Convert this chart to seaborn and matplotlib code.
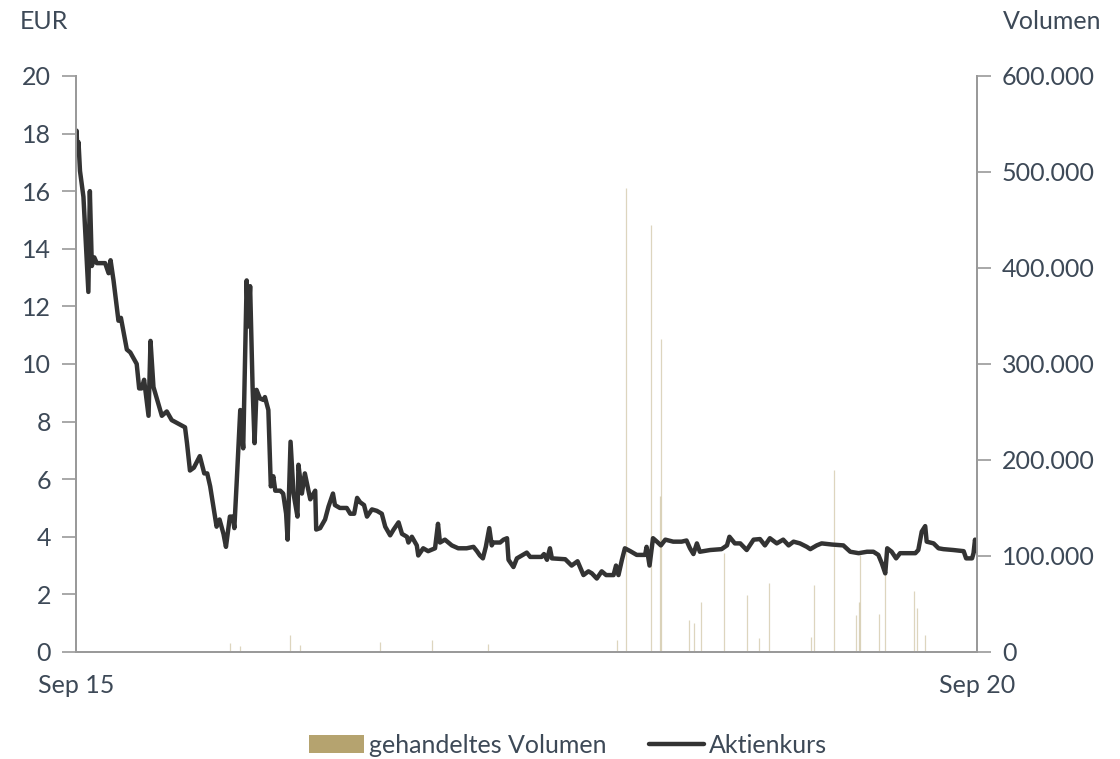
import numpy as np
import pandas as pd
import matplotlib
matplotlib.use("Agg")
import matplotlib.pyplot as plt
import matplotlib.dates as mdates
from matplotlib.patches import Patch
from matplotlib.lines import Line2D
from matplotlib.ticker import FuncFormatter, MultipleLocator
import seaborn as sns

start = pd.Timestamp("2015-09-15")
end = pd.Timestamp("2020-09-15")

# Aktienkurs: Tage seit Start, Kurs in EUR
kurs_tage = [0, 1, 3, 5, 8, 15, 25, 28, 32, 37, 42, 59, 66, 70, 76, 86, 91, 103, 110, 123,
             128, 133, 138, 147, 151, 157, 174, 184, 194, 221, 225, 231, 239, 251, 260, 266,
             272, 285, 291, 299, 304, 312, 318, 321, 326, 333, 339, 346, 349, 353, 358, 362,
             366, 373, 380, 383, 390, 395, 400, 404, 414, 420, 426, 429, 435, 441, 449, 451,
             458, 464, 475, 485, 487, 495, 505, 512, 521, 525, 535, 549, 556, 564, 570, 576,
             584, 590, 600, 610, 620, 627, 637, 644, 654, 661, 671, 674, 681, 691, 694, 704,
             714, 728, 734, 738, 748, 762, 775, 792, 806, 813, 819, 825, 831, 838, 843, 846,
             860, 867, 874, 877, 887, 894, 914, 921, 944, 949, 955, 961, 965, 992, 1005, 1017,
             1029, 1039, 1046, 1056, 1066, 1075, 1090, 1095, 1100, 1107, 1113, 1124, 1137,
             1154, 1157, 1163, 1170, 1178, 1186, 1195, 1211, 1228, 1238, 1245, 1252, 1259,
             1265, 1286, 1309, 1320, 1325, 1336, 1347, 1360, 1374, 1387, 1397, 1407, 1421,
             1434, 1445, 1455, 1468, 1482, 1489, 1502, 1512, 1533, 1556, 1570, 1587, 1604,
             1617, 1627, 1634, 1641, 1645, 1654, 1663, 1671, 1702, 1708, 1715, 1722, 1725,
             1739, 1749, 1759, 1779, 1800, 1805, 1817, 1820, 1823, 1827]
kurs = [17.9, 18.1, 17.3, 17.7, 16.7, 15.8, 12.5, 16.0, 13.4, 13.7, 13.5, 13.5, 13.15, 13.6,
        12.9, 11.5, 11.6, 10.5, 10.4, 10.0, 9.15, 9.15, 9.45, 8.2, 10.8, 9.2, 8.2, 8.35, 8.05,
        7.8, 7.25, 6.3, 6.4, 6.8, 6.2, 6.2, 5.75, 4.35, 4.6, 4.1, 3.65, 4.7, 4.7, 4.3, 5.97,
        8.4, 7.07, 12.9, 11.3, 12.7, 9.2, 7.25, 9.1, 8.8, 8.75, 8.85, 8.4, 5.75, 6.1, 5.6, 5.6,
        5.5, 4.8, 3.9, 7.3, 5.5, 4.7, 6.5, 5.5, 6.2, 5.3, 5.6, 4.25, 4.3, 4.6, 5.05, 5.5, 5.1,
        5.0, 5.0, 4.8, 4.8, 5.35, 5.2, 5.1, 4.7, 4.95, 4.9, 4.8, 4.35, 4.05, 4.25, 4.5, 4.1,
        4.0, 3.8, 4.0, 3.7, 3.35, 3.6, 3.5, 3.6, 4.45, 3.8, 3.9, 3.7, 3.6, 3.6, 3.65, 3.5, 3.35,
        3.25, 3.65, 4.3, 3.7, 3.8, 3.8, 3.9, 3.95, 3.2, 2.95, 3.25, 3.45, 3.3, 3.3, 3.4, 3.2,
        3.6, 3.25, 3.22, 3.0, 3.15, 2.67, 2.8, 2.73, 2.55, 2.8, 2.67, 2.67, 3.0, 2.67, 3.2, 3.6,
        3.5, 3.37, 3.37, 3.65, 3.0, 3.95, 3.83, 3.7, 3.9, 3.83, 3.83, 3.87, 3.6, 3.4, 3.77,
        3.48, 3.54, 3.57, 3.7, 4.0, 3.77, 3.77, 3.54, 3.9, 3.92, 3.7, 3.95, 3.77, 3.9, 3.7,
        3.83, 3.77, 3.65, 3.57, 3.7, 3.77, 3.73, 3.7, 3.48, 3.43, 3.48, 3.48, 3.37, 3.08, 2.73,
        3.6, 3.48, 3.25, 3.43, 3.43, 3.54, 4.18, 4.37, 3.83, 3.77, 3.6, 3.57, 3.54, 3.5, 3.25,
        3.25, 3.43, 3.9, 3.5]

# gehandeltes Volumen: Tage seit Start, Stueck
vol_tage = [312, 333, 434, 454, 617, 722, 836, 1097, 1115, 1166, 1184, 1186, 1242, 1254, 1268,
            1313, 1361, 1385, 1406, 1490, 1497, 1538, 1582, 1587, 1589, 1629, 1641, 1700, 1705,
            1722]
volumen = [9000, 6000, 18000, 7000, 10000, 12000, 8000, 12500, 483000, 445000, 162000, 326000,
           33000, 30000, 52000, 103000, 59000, 14500, 71500, 16000, 70000, 190000, 38500, 52000,
           101000, 40000, 89000, 63000, 45500, 17700]

kurs_df = pd.DataFrame({"Datum": start + pd.to_timedelta(kurs_tage, unit="D"), "Kurs": kurs})
vol_datum = start + pd.to_timedelta(vol_tage, unit="D")

text_farbe = "#3d4957"
achse_farbe = "#9a9a9a"
gold = "#b5a36f"

sns.set_style("white")
plt.rcParams["font.family"] = ["Lato", "DejaVu Sans"]

fig = plt.figure(figsize=(11.2, 7.59), dpi=100)
ax = fig.add_axes([0.0679, 0.141, 0.8044, 0.759])
ax2 = ax.twinx()

ax2.vlines(vol_datum, 0, volumen, color=gold, alpha=0.45, linewidth=0.9)
sns.lineplot(data=kurs_df, x="Datum", y="Kurs", ax=ax, color="#333333", linewidth=3.2)

ax.set_zorder(ax2.get_zorder() + 1)
ax.patch.set_visible(False)

ax.set_xlim(start, end)
ax.set_ylim(0, 20)
ax2.set_ylim(0, 600000)
ax.yaxis.set_major_locator(MultipleLocator(2))
ax2.yaxis.set_major_locator(MultipleLocator(100000))
ax2.yaxis.set_major_formatter(FuncFormatter(lambda v, p: f"{int(v):,}".replace(",", ".")))

ax.set_xticks([start, end])
ax.xaxis.set_major_formatter(mdates.DateFormatter("%b %y"))
ax.xaxis.set_minor_locator(mdates.MonthLocator())
ax.set_xlabel("")
ax.set_ylabel("")

for a in (ax, ax2):
    for s in a.spines.values():
        s.set_color(achse_farbe)
        s.set_linewidth(1.4)
    a.spines["top"].set_visible(False)
    a.tick_params(axis="both", which="major", direction="out", length=10, width=1.2,
                  color=achse_farbe, labelsize=18, labelcolor=text_farbe, pad=8)
ax.tick_params(axis="x", which="minor", direction="in", length=2, width=0.6, color="#cccccc")
ax.tick_params(axis="x", which="major", pad=6)

fig.text(0.018, 0.972, "EUR", fontsize=18, color=text_farbe, ha="left", va="center")
fig.text(0.983, 0.972, "Volumen", fontsize=18, color=text_farbe, ha="right", va="center")

handles = [Patch(color=gold, linewidth=0),
           Line2D([0], [0], color="#333333", linewidth=3.2)]
fig.legend(handles, ["gehandeltes Volumen", "Aktienkurs"], loc="center",
           bbox_to_anchor=(0.507, 0.018), ncol=2, frameon=False, fontsize=18,
           labelcolor=text_farbe, handlelength=2.2, handletextpad=0.2, columnspacing=1.7)

fig.savefig("out.png", dpi=100)
plt.close(fig)
